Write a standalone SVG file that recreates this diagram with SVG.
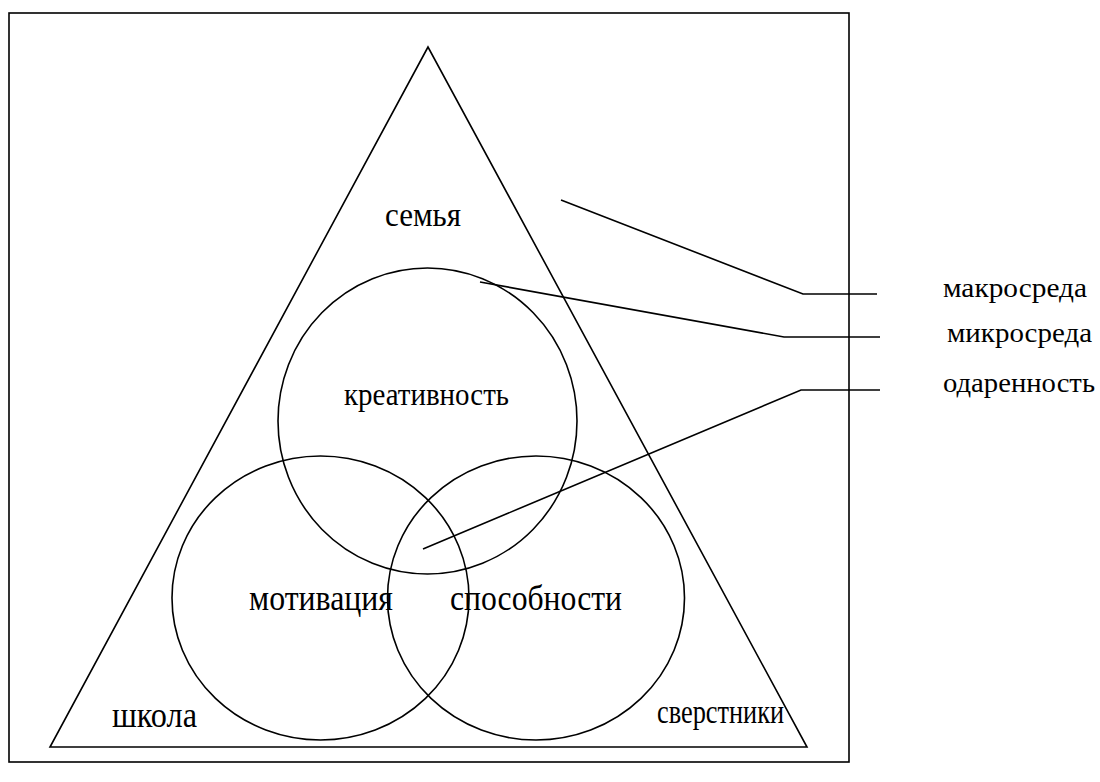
<svg xmlns="http://www.w3.org/2000/svg" width="1100" height="782" viewBox="0 0 1100 782">
<style>
.s{fill:none;stroke:#000;stroke-width:1.6}
.t{font-family:"Liberation Serif","Times New Roman",serif;fill:#000}
</style>
<rect x="0" y="0" width="1100" height="782" fill="#fff"/>
<g id="frame"><rect class="s" x="9" y="13" width="840" height="749"/></g>
<g id="triangle"><polygon class="s" points="428,47 50,747 807,747"/></g>
<g id="creativity"><ellipse class="s" cx="427.5" cy="421" rx="149.5" ry="153"/></g>
<g id="motivation"><ellipse class="s" cx="320.5" cy="598" rx="148.5" ry="142"/></g>
<g id="abilities"><ellipse class="s" cx="536" cy="598" rx="148.5" ry="142"/></g>
<g id="connectors">
<polyline class="s" points="561,200 803,294 877,294"/>
<polyline class="s" points="480,282 784,337 880,337"/>
<polyline class="s" points="423,549 801,390 880,390"/>
</g>
<g id="labels" class="t">
<text x="385" y="226" font-size="33" textLength="76" lengthAdjust="spacingAndGlyphs">семья</text>
<text x="344" y="405" font-size="31" textLength="165" lengthAdjust="spacingAndGlyphs">креативность</text>
<text x="249" y="610" font-size="36" textLength="144" lengthAdjust="spacingAndGlyphs">мотивация</text>
<text x="450" y="610" font-size="36" textLength="172" lengthAdjust="spacingAndGlyphs">способности</text>
<text x="112" y="727" font-size="36" textLength="85" lengthAdjust="spacingAndGlyphs">школа</text>
<text x="657" y="723" font-size="33" textLength="127" lengthAdjust="spacingAndGlyphs">сверстники</text>
<text x="943" y="297" font-size="27" textLength="144" lengthAdjust="spacingAndGlyphs">макросреда</text>
<text x="947" y="342" font-size="27" textLength="145" lengthAdjust="spacingAndGlyphs">микросреда</text>
<text x="943" y="392" font-size="27" textLength="152" lengthAdjust="spacingAndGlyphs">одаренность</text>
</g>
</svg>
